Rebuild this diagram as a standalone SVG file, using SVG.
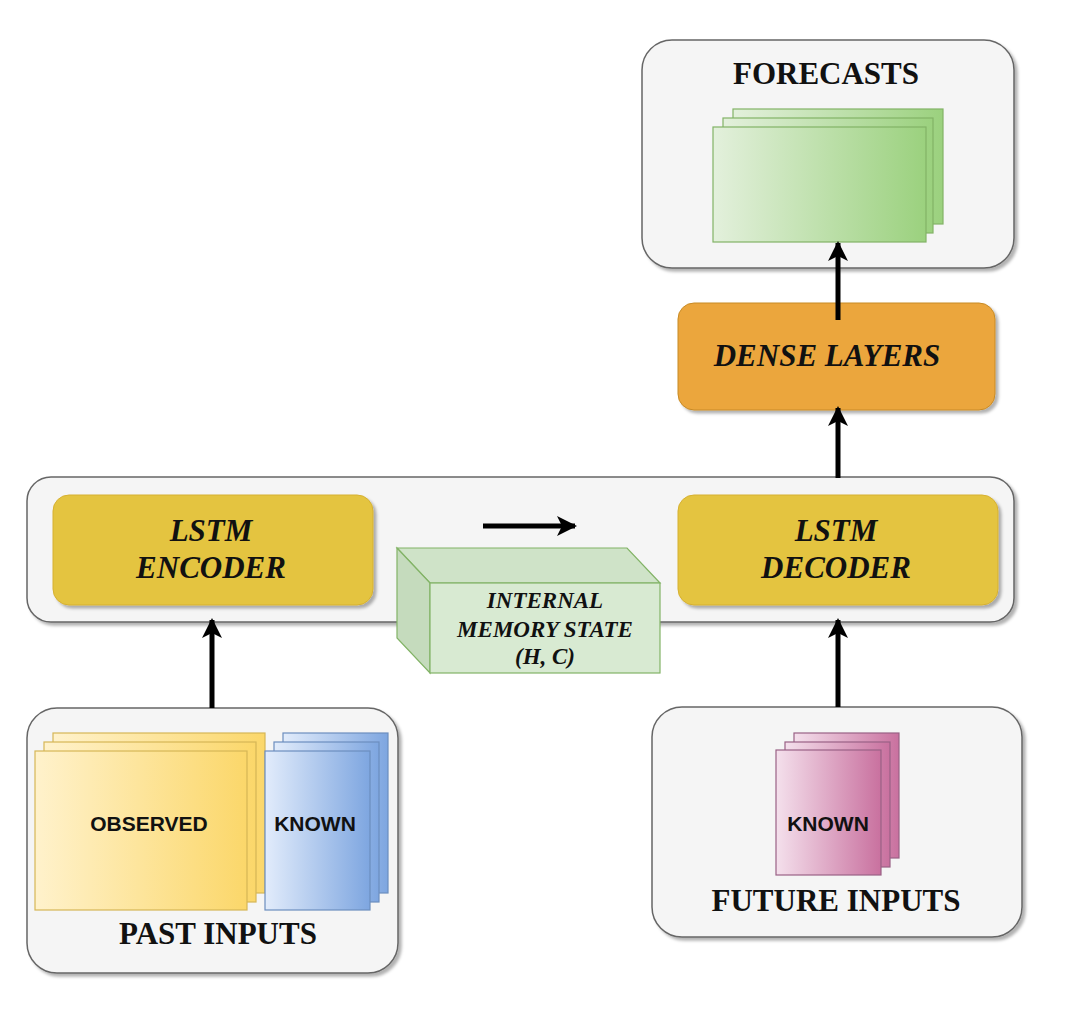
<svg xmlns="http://www.w3.org/2000/svg" width="1066" height="1026" viewBox="0 0 1066 1026">
<defs>
  <filter id="sh" x="-10%" y="-10%" width="130%" height="130%">
    <feDropShadow dx="3" dy="3" stdDeviation="1.5" flood-color="#000" flood-opacity="0.3"/>
  </filter>
  <linearGradient id="gGreen" x1="0" y1="0" x2="1" y2="0">
    <stop offset="0" stop-color="#e3f0dc"/>
    <stop offset="1" stop-color="#9bd17e"/>
  </linearGradient>
  <linearGradient id="gYellow" x1="0" y1="0" x2="1" y2="0">
    <stop offset="0" stop-color="#fff2cc"/>
    <stop offset="1" stop-color="#fbd76a"/>
  </linearGradient>
  <linearGradient id="gBlue" x1="0" y1="0" x2="1" y2="0">
    <stop offset="0" stop-color="#e2ecfb"/>
    <stop offset="1" stop-color="#7ea6e0"/>
  </linearGradient>
  <linearGradient id="gPink" x1="0" y1="0" x2="1" y2="0">
    <stop offset="0" stop-color="#f4e0ec"/>
    <stop offset="1" stop-color="#c9719f"/>
  </linearGradient>
  <marker id="arr" viewBox="0 0 10 10" refX="9" refY="5" markerWidth="4" markerHeight="4" orient="auto" markerUnits="strokeWidth">
    <path d="M0,0 L10,5 L0,10 L2.5,5 Z" fill="#000"/>
  </marker>
</defs>
<style>
  .panel { fill: #f5f5f5; stroke: #666; stroke-width: 1.5; }
  .lstm { fill: #e4c440; stroke: #d6b030; stroke-width: 1; }
  .dense { fill: #eba63c; stroke: #c88a24; stroke-width: 1; }
  .title { font-family: "Liberation Serif", serif; font-weight: bold; fill: #111; text-anchor: middle; }
  .ital { font-family: "Liberation Serif", serif; font-weight: bold; font-style: italic; fill: #111; text-anchor: middle; }
  .sans { font-family: "Liberation Sans", sans-serif; font-weight: bold; fill: #111; text-anchor: middle; }
  .conn { stroke: #000; stroke-width: 5; fill: none; marker-end: url(#arr); }
  .gr { fill: url(#gGreen); stroke: #82b366; stroke-width: 1.2; }
  .yl { fill: url(#gYellow); stroke: #d6b656; stroke-width: 1.2; }
  .bl { fill: url(#gBlue); stroke: #6c8ebf; stroke-width: 1.2; }
  .pk { fill: url(#gPink); stroke: #996185; stroke-width: 1.2; }
</style>
<rect width="1066" height="1026" fill="#ffffff"/>

<g id="forecasts">
  <rect class="panel" x="642" y="40" width="372" height="228" rx="30" filter="url(#sh)"/>
  <text class="title" x="826" y="84" font-size="31">FORECASTS</text>
  <rect class="gr" x="733" y="109" width="210" height="115"/>
  <rect class="gr" x="723" y="118" width="210" height="115"/>
  <rect class="gr" x="713" y="127" width="213" height="115"/>
</g>

<g id="dense-layers">
  <rect class="dense" x="678" y="303" width="317" height="107" rx="16" filter="url(#sh)"/>
  <text class="ital" x="827" y="366" font-size="31">DENSE LAYERS</text>
</g>

<g id="container">
  <rect class="panel" x="27" y="477" width="987" height="145" rx="24" filter="url(#sh)"/>
</g>

<g id="lstm-encoder">
  <rect class="lstm" x="53" y="495" width="320" height="110" rx="16" filter="url(#sh)"/>
  <text class="ital" x="211" y="541" font-size="31">LSTM</text>
  <text class="ital" x="211" y="578" font-size="31">ENCODER</text>
</g>

<g id="lstm-decoder">
  <rect class="lstm" x="678" y="495" width="320" height="110" rx="16" filter="url(#sh)"/>
  <text class="ital" x="836" y="541" font-size="31">LSTM</text>
  <text class="ital" x="836" y="578" font-size="31">DECODER</text>
</g>

<g id="memory-state">
  <path d="M397,548 L627,548 L660,583 L430,583 Z" fill="#cfe3c8" stroke="#82b366" stroke-width="1.2"/>
  <path d="M397,548 L430,583 L430,673 L397,638 Z" fill="#c5dbbd" stroke="#82b366" stroke-width="1.2"/>
  <rect x="430" y="583" width="230" height="90" fill="#d8ead2" stroke="#82b366" stroke-width="1.2"/>
  <text class="ital" x="545" y="608" font-size="23">INTERNAL</text>
  <text class="ital" x="545" y="637" font-size="23">MEMORY STATE</text>
  <text class="ital" x="545" y="664" font-size="23">(H, C)</text>
</g>

<g id="past-inputs">
  <rect class="panel" x="27" y="708" width="371" height="265" rx="30" filter="url(#sh)"/>
  <rect class="yl" x="53" y="733" width="212" height="160"/>
  <rect class="yl" x="44" y="742" width="212" height="160"/>
  <rect class="yl" x="35" y="751" width="212" height="159"/>
  <text class="sans" x="149" y="831" font-size="21">OBSERVED</text>
  <rect class="bl" x="283" y="733" width="105" height="160"/>
  <rect class="bl" x="274" y="742" width="105" height="160"/>
  <rect class="bl" x="265" y="751" width="105" height="159"/>
  <text class="sans" x="315" y="831" font-size="21">KNOWN</text>
  <text class="title" x="218" y="944" font-size="31">PAST INPUTS</text>
</g>

<g id="future-inputs">
  <rect class="panel" x="652" y="707" width="370" height="230" rx="30" filter="url(#sh)"/>
  <rect class="pk" x="794" y="733" width="105" height="125"/>
  <rect class="pk" x="785" y="742" width="105" height="125"/>
  <rect class="pk" x="776" y="750" width="105" height="125"/>
  <text class="sans" x="828" y="831" font-size="21">KNOWN</text>
  <text class="title" x="836" y="911" font-size="31">FUTURE INPUTS</text>
</g>

<g id="connectors">
  <line class="conn" x1="838" y1="320" x2="838" y2="243"/>
  <line class="conn" x1="838" y1="478" x2="838" y2="408"/>
  <line class="conn" x1="483" y1="526" x2="575" y2="526"/>
  <line class="conn" x1="212" y1="708" x2="212" y2="620"/>
  <line class="conn" x1="838" y1="707" x2="838" y2="620"/>
</g>
</svg>
